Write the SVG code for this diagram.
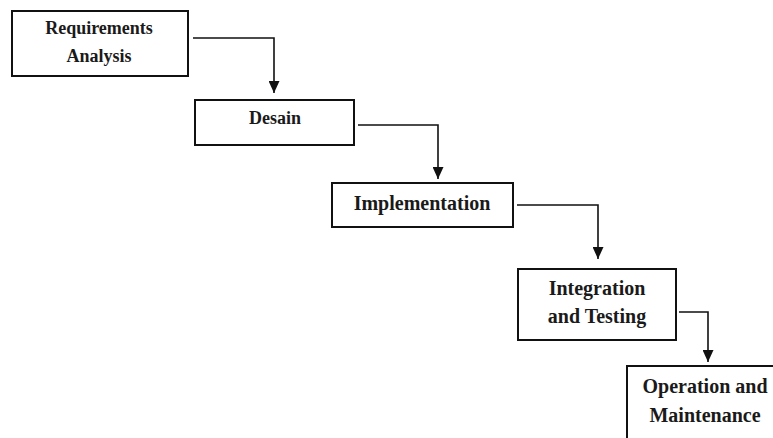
<svg xmlns="http://www.w3.org/2000/svg" width="773" height="438" viewBox="0 0 773 438">
<defs>
<marker id="arr" viewBox="0 0 12 11" refX="12" refY="5.5" markerWidth="12" markerHeight="11" markerUnits="userSpaceOnUse" orient="auto">
<path d="M0,0 L12,5.5 L0,11 Z" fill="#111"/>
</marker>
</defs>
<style>
.box{fill:#fff;stroke:#111;stroke-width:2}
.t{font-family:"Liberation Serif","Times New Roman",serif;font-weight:bold;fill:#1a1a1a;text-anchor:middle}
.s18{font-size:18px}
.s20{font-size:20px}
.c{fill:none;stroke:#111;stroke-width:1.6}
</style>
<rect width="773" height="438" fill="#fff"/>
<g id="requirements">
<rect class="box" x="12" y="11" width="176" height="65"/>
<text class="t s18" x="99" y="34">Requirements</text>
<text class="t s18" x="99" y="62">Analysis</text>
</g>
<g id="desain">
<rect class="box" x="195" y="100" width="159" height="45"/>
<text class="t s18" x="275" y="124">Desain</text>
</g>
<g id="implementation">
<rect class="box" x="332" y="183" width="181" height="44"/>
<text class="t s20" x="422" y="210">Implementation</text>
</g>
<g id="integration">
<rect class="box" x="518" y="269" width="158" height="71"/>
<text class="t s20" x="597" y="295">Integration</text>
<text class="t s20" x="597" y="323">and Testing</text>
</g>
<g id="operation">
<rect class="box" x="627" y="366" width="150" height="80"/>
<text class="t s20" x="705" y="393">Operation and</text>
<text class="t s20" x="705" y="422">Maintenance</text>
</g>
<g id="connectors">
<path class="c" d="M193,38 H274 V93" marker-end="url(#arr)"/>
<path class="c" d="M358,125 H438 V179" marker-end="url(#arr)"/>
<path class="c" d="M517,205 H598 V259" marker-end="url(#arr)"/>
<path class="c" d="M679,312 H708 V362" marker-end="url(#arr)"/>
</g>
</svg>
